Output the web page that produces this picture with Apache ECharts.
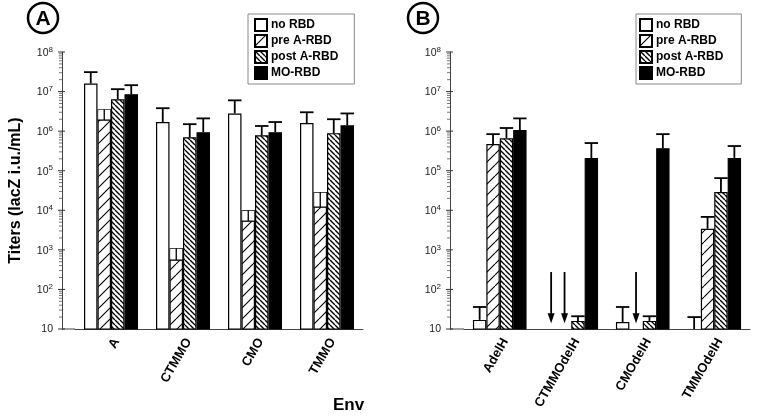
<!DOCTYPE html>
<html>
<head>
<meta charset="utf-8">
<script src="https://cdn.jsdelivr.net/npm/echarts@6/dist/echarts.min.js"></script>
<style>html,body{margin:0;padding:0;background:#fff}#c{width:758px;height:419px}</style>
</head>
<body>
<div id="c"></div>
<script>
// ---------- data ----------
const seriesNames = ['no RBD', 'pre A-RBD', 'post A-RBD', 'MO-RBD'];
const categoriesA = ['A', 'CTMMO', 'CMO', 'TMMO'];
const categoriesB = ['AdelH', 'CTMMOdelH', 'CMOdelH', 'TMMOdelH'];
const yTickValues = [10, 1e2, 1e3, 1e4, 1e5, 1e6, 1e7, 1e8];

// Panel A
const noRbdA    = [1.6e7, 1.7e6, 2.8e6, 1.6e6];
const noRbdErrA = [3.1e7, 3.8e6, 6.0e6, 3.0e6];
const preA      = [3.6e6, 1.1e3, 1.0e4, 2.9e4];   // bar top
const preLowA   = [1.9e6, 5.5e2, 5.3e3, 1.2e4];   // lower error limit
const postA     = [6.4e6, 7.0e5, 7.9e5, 8.9e5];
const postErrA  = [1.15e7, 1.5e6, 1.35e6, 2.0e6];
const moA       = [8.6e6, 9.4e5, 9.4e5, 1.4e6];
const moErrA    = [1.45e7, 2.1e6, 1.7e6, 2.8e6];

// Panel B
const noRbdB    = [17, null, 15, null];
const noRbdErrB = [36, null, 36, 20];
const preB      = [4.7e5, null, null, 3.4e3];
const preErrB   = [8.4e5, null, null, 6.8e3];
const postB     = [6.6e5, 16, 16, 2.9e4];
const postErrB  = [1.2e6, 21, 21, 6.5e4];
const moB       = [1.07e6, 2.1e5, 3.7e5, 2.1e5];
const moErrB    = [2.1e6, 5.0e5, 8.4e5, 4.2e5];
// arrows (below detection): [category index, series index]
const arrowsB   = [[1, 0], [1, 1], [2, 1]];
const arrowFrom = 275;
const arrowTo   = 14;

// ---------- helpers ----------
function hatch(size, dir, lw) {
  const c = document.createElement('canvas');
  c.width = size; c.height = size;
  const g = c.getContext('2d');
  g.fillStyle = '#fff'; g.fillRect(0, 0, size, size);
  g.strokeStyle = '#000'; g.lineWidth = lw; g.beginPath();
  for (const k of [-size, 0, size]) {
    if (dir === '/') { g.moveTo(k, size); g.lineTo(k + size, 0); }
    else { g.moveTo(k, 0); g.lineTo(k + size, size); }
  }
  g.stroke();
  return c;
}
const fills = [
  '#ffffff',
  { image: hatch(11, '/', 1.1), repeat: 'repeat' },
  { image: hatch(5, '\\', 1.4), repeat: 'repeat' },
  '#000000'
];

const FONT = 'Liberation Sans, Arial, Helvetica, sans-serif';
const GRID_TOP = 52, GRID_BOTTOM = 90;
const gridA = { left: 75, right: 395, top: GRID_TOP, bottom: GRID_BOTTOM };
const gridB = { left: 464, right: 8, top: GRID_TOP, bottom: GRID_BOTTOM };
const offA = 13, offB = 14;

function yLabel(v) {
  const e = Math.round(Math.log10(v));
  return e === 1 ? '{b|10}' : '{b|10}{s|' + e + '}';
}

function makeXAxis(cats, gi) {
  return {
    type: 'category', data: cats, gridIndex: gi,
    axisLine: { lineStyle: { color: '#444', width: 1 } },
    axisTick: { length: 4, lineStyle: { color: '#444' } },
    axisLabel: { rotate: 60, margin: 7, verticalAlign: 'top', fontFamily: FONT, fontWeight: 'bold', fontSize: 13, color: '#000', interval: 0 }
  };
}
function makeYAxis(gi, off, name) {
  return {
    type: 'log', logBase: 10, min: 10, max: 1e8, gridIndex: gi, offset: off,
    splitLine: { show: false },
    axisLine: { show: true, lineStyle: { color: '#444', width: 1 } },
    axisTick: { show: false },
    axisLabel: {
      margin: 9, formatter: yLabel,
      rich: {
        b: { fontFamily: FONT, fontSize: 10.5, color: '#222', verticalAlign: 'bottom' },
        s: { fontFamily: FONT, fontSize: 8, color: '#222', verticalAlign: 'bottom', padding: [0, 0, 5, 0] }
      }
    },
    name: name || '', nameLocation: 'middle', nameGap: 38,
    nameTextStyle: { fontFamily: FONT, fontWeight: 'bold', fontSize: 16, color: '#000' }
  };
}

function barSeries(gi, vals) {
  return vals.map((arr, si) => ({
    type: 'bar', name: seriesNames[si], xAxisIndex: gi, yAxisIndex: gi,
    data: arr.map(v => (v == null ? '-' : v)),
    barGap: '0%', barCategoryGap: '25%', silent: true,
    itemStyle: { color: fills[si], borderColor: '#000', borderWidth: 1.2 },
    z: 2
  }));
}

// error / arrow items: [cat, si, v1, v2, type]; type 0 = up T, 1 = down box, 2 = arrow
function errItems(tops, errs, si) {
  const out = [];
  tops.forEach((t, i) => {
    if (errs[i] == null) return;
    out.push([i, si, t == null ? 10 : t, errs[i], 0]);
  });
  return out;
}
function renderErr(params, api) {
  const cat = api.value(0), si = api.value(1), v1 = api.value(2), v2 = api.value(3), t = api.value(4);
  const band = api.size([1, 0])[0];
  const bw = band * 0.75 / 4;
  const p1 = api.coord([cat, v1]);
  const p2 = api.coord([cat, v2]);
  const cx = p1[0] + (si - 1.5) * bw;
  const y1 = p1[1], y2 = p2[1], h = bw / 2;
  const st = { stroke: '#000', lineWidth: 1.8, fill: null };
  const ch = [];
  if (t === 0) {
    ch.push({ type: 'line', shape: { x1: cx, y1: y1, x2: cx, y2: y2 }, style: st });
    ch.push({ type: 'line', shape: { x1: cx - h, y1: y2, x2: cx + h, y2: y2 }, style: st });
  } else if (t === 1) {
    ch.push({ type: 'rect', shape: { x: cx - h + 0.7, y: y1 + 0.7, width: bw - 1.4, height: y2 - y1 - 0.7 }, style: { fill: '#fff' } });
    ch.push({ type: 'line', shape: { x1: cx, y1: y1, x2: cx, y2: y2 }, style: { stroke: '#000', lineWidth: 1.3 } });
    ch.push({ type: 'line', shape: { x1: cx - h, y1: y2, x2: cx + h, y2: y2 }, style: { stroke: '#000', lineWidth: 1.3 } });
  } else {
    ch.push({ type: 'line', shape: { x1: cx, y1: y1, x2: cx, y2: y2 - 6 }, style: st });
    ch.push({ type: 'polygon', shape: { points: [[cx - 3.5, y2 - 10], [cx + 3.5, y2 - 10], [cx, y2]] }, style: { fill: '#000' } });
  }
  return { type: 'group', children: ch };
}
function errSeries(gi, data) {
  return {
    type: 'custom', xAxisIndex: gi, yAxisIndex: gi, silent: true, z: 5,
    renderItem: renderErr, encode: { x: 0, y: 2 }, data: data
  };
}

// y-axis ticks (major crossing, minor log-spaced) drawn from the log scale
function tickData() {
  const out = [];
  yTickValues.forEach((v, i) => {
    out.push([0, v, 1]);
    if (i < yTickValues.length - 1) for (let m = 2; m <= 9; m++) out.push([0, v * m, 0]);
  });
  return out;
}
function tickSeries(gi, off) {
  return {
    type: 'custom', xAxisIndex: gi, yAxisIndex: gi, silent: true, z: 6,
    encode: { x: 0, y: 1 }, data: tickData(),
    renderItem: function (params, api) {
      const ax = params.coordSys.x - off;
      const y = api.coord([0, api.value(1)])[1];
      const major = api.value(2) === 1;
      return {
        type: 'line',
        shape: { x1: ax - (major ? 4 : 3), y1: y, x2: ax + (major ? 3 : 0), y2: y },
        style: { stroke: major ? '#333' : '#777', lineWidth: 1 }
      };
    }
  };
}

const errA = [].concat(
  errItems(noRbdA, noRbdErrA, 0),
  preA.map((t, i) => [i, 1, t, preLowA[i], 1]),
  errItems(postA, postErrA, 2),
  errItems(moA, moErrA, 3)
);
const errB = [].concat(
  errItems(noRbdB, noRbdErrB, 0),
  errItems(preB, preErrB, 1),
  errItems(postB, postErrB, 2),
  errItems(moB, moErrB, 3),
  arrowsB.map(a => [a[0], a[1], arrowFrom, arrowTo, 2])
);

function legendAt(left, padLeft, padRight) {
  return {
    data: seriesNames, orient: 'vertical', left: left, top: 14,
    icon: 'rect', itemWidth: 12, itemHeight: 12, itemGap: 2,
    padding: [4, padRight, 4, padLeft], borderColor: '#888', borderWidth: 1,
    selectedMode: false,
    textStyle: { fontFamily: FONT, fontWeight: 'bold', fontSize: 12, color: '#000', padding: [0, 0, 0, -1], lineHeight: 14 }
  };
}

function panelLetter(cx, letter) {
  return [
    { type: 'circle', shape: { cx: cx, cy: 18, r: 15 }, style: { fill: '#fff', stroke: '#000', lineWidth: 2.5 } },
    { type: 'text', x: cx, y: 19, style: { text: letter, font: 'bold 21px ' + FONT, fill: '#000', align: 'center', verticalAlign: 'middle' } }
  ];
}

const H = 419;
const option = {
  animation: false,
  backgroundColor: '#fff',
  grid: [gridA, gridB],
  xAxis: [makeXAxis(categoriesA, 0), makeXAxis(categoriesB, 1)],
  yAxis: [makeYAxis(0, offA, 'Titers (lacZ i.u./mL)'), makeYAxis(1, offB)],
  legend: [legendAt(248, 6, 16), legendAt(636, 3, 18)],
  title: { text: 'Env', left: 328, top: 392, textStyle: { fontFamily: FONT, fontWeight: 'bold', fontSize: 17, color: '#000' } },
  graphic: [].concat(
    panelLetter(43, 'A'),
    panelLetter(423, 'B'),
    [
      { type: 'line', shape: { x1: gridA.left - offA, y1: H - GRID_BOTTOM, x2: gridA.left, y2: H - GRID_BOTTOM }, style: { stroke: '#444', lineWidth: 1 } },
      { type: 'line', shape: { x1: gridB.left - offB, y1: H - GRID_BOTTOM, x2: gridB.left, y2: H - GRID_BOTTOM }, style: { stroke: '#444', lineWidth: 1 } }
    ]
  ),
  series: [].concat(
    barSeries(0, [noRbdA, preA, postA, moA]),
    barSeries(1, [noRbdB, preB, postB, moB]),
    [errSeries(0, errA), errSeries(1, errB), tickSeries(0, offA), tickSeries(1, offB)]
  )
};
const chart = echarts.init(document.getElementById('c'), null, { renderer: 'canvas' });
chart.setOption(option);
</script>
</body>
</html>
